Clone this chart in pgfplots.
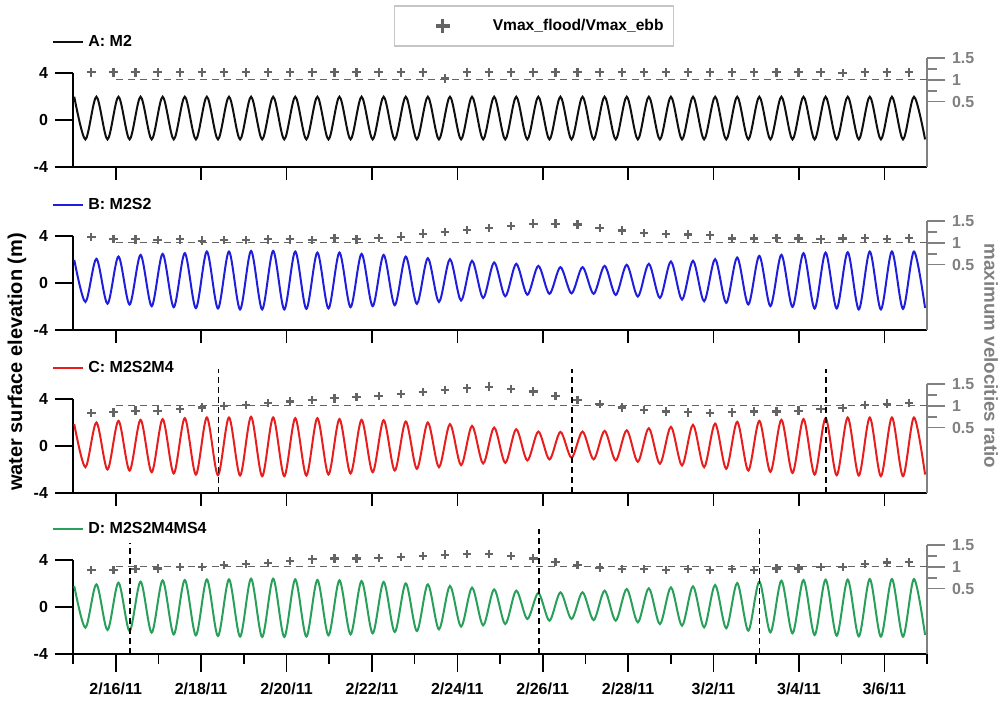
\documentclass[border=0pt]{standalone}
\usepackage{fontspec}
\setmainfont{Liberation Sans}
\usepackage{pgfplots}
\pgfplotsset{compat=1.18}
\usepackage{pgfplotstable}

\definecolor{cA}{RGB}{15,15,15}
\definecolor{cB}{RGB}{30,30,220}
\definecolor{cC}{RGB}{232,30,30}
\definecolor{cD}{RGB}{40,160,90}
\definecolor{mk}{RGB}{100,100,100}
\definecolor{rax}{RGB}{128,128,128}

\pgfplotstableread{
t a b c d
0.030 1.98 1.97 1.86 1.79
0.290 -1.65 -1.61 -1.80 -1.76
0.548 1.98 2.06 2.00 1.93
0.808 -1.65 -1.77 -2.00 -1.96
1.065 1.98 2.25 2.14 2.07
1.325 -1.65 -1.83 -2.09 -2.04
1.583 1.98 2.39 2.23 2.16
1.843 -1.65 -1.97 -2.23 -2.18
2.100 1.98 2.48 2.29 2.27
2.360 -1.65 -2.06 -2.34 -2.33
2.618 1.98 2.54 2.37 2.30
2.878 -1.65 -2.14 -2.43 -2.41
3.135 1.98 2.68 2.43 2.35
3.395 -1.65 -2.17 -2.49 -2.47
3.653 1.98 2.68 2.43 2.35
3.913 -1.65 -2.25 -2.51 -2.52
4.170 1.98 2.73 2.49 2.41
4.430 -1.65 -2.25 -2.57 -2.55
4.688 1.98 2.73 2.43 2.41
4.948 -1.65 -2.25 -2.57 -2.55
5.205 1.98 2.68 2.37 2.35
5.465 -1.65 -2.20 -2.51 -2.52
5.723 1.98 2.59 2.37 2.30
5.983 -1.65 -2.17 -2.43 -2.41
6.240 1.98 2.59 2.29 2.27
6.500 -1.65 -2.06 -2.34 -2.33
6.758 1.98 2.48 2.23 2.21
7.018 -1.65 -1.97 -2.23 -2.24
7.275 1.98 2.39 2.20 2.13
7.535 -1.65 -1.89 -2.09 -2.13
7.793 1.98 2.25 2.09 2.01
8.053 -1.65 -1.77 -1.94 -2.04
8.310 1.98 2.11 2.00 1.93
8.570 -1.65 -1.61 -1.80 -1.90
8.828 1.98 2.03 1.86 1.79
9.088 -1.65 -1.49 -1.63 -1.67
9.345 1.98 1.89 1.71 1.65
9.605 -1.65 -1.27 -1.49 -1.56
9.863 1.98 1.75 1.57 1.50
10.123 -1.65 -1.13 -1.43 -1.45
10.380 1.98 1.63 1.43 1.39
10.640 -1.65 -1.00 -1.23 -1.02
10.898 1.98 1.46 1.23 1.19
11.158 -1.65 -0.92 -1.14 -1.16
11.415 1.98 1.35 1.20 1.25
11.675 -1.65 -0.88 -1.00 -1.02
11.933 1.98 1.35 1.23 1.25
12.193 -1.65 -0.92 -1.14 -1.11
12.450 1.98 1.46 1.29 1.39
12.710 -1.65 -1.02 -1.23 -1.16
12.968 1.98 1.55 1.34 1.53
13.228 -1.65 -1.15 -1.34 -1.30
13.485 1.98 1.63 1.51 1.59
13.745 -1.65 -1.27 -1.51 -1.45
14.003 1.98 1.83 1.63 1.67
14.263 -1.65 -1.41 -1.66 -1.59
14.520 1.98 1.89 1.80 1.76
14.780 -1.65 -1.55 -1.80 -1.73
15.038 1.98 2.03 1.91 1.87
15.298 -1.65 -1.69 -1.94 -1.81
15.555 1.98 2.17 2.06 2.04
15.815 -1.65 -1.83 -2.09 -2.01
16.073 1.98 2.31 2.14 2.16
16.333 -1.65 -1.97 -2.20 -2.16
16.590 1.98 2.40 2.23 2.24
16.850 -1.65 -2.03 -2.29 -2.24
17.108 1.98 2.54 2.29 2.30
17.368 -1.65 -2.17 -2.43 -2.38
17.625 1.98 2.59 2.37 2.33
17.885 -1.65 -2.17 -2.49 -2.44
18.143 1.98 2.62 2.43 2.33
18.403 -1.65 -2.25 -2.51 -2.50
18.660 1.98 2.68 2.43 2.38
18.920 -1.65 -2.25 -2.57 -2.52
19.178 1.98 2.68 2.43 2.38
19.438 -1.65 -2.20 -2.57 -2.52
19.695 1.98 2.68 2.43 2.38
19.955 -1.65 -2.12 -2.43 -2.38
}\curves

\pgfplotstableread{
t a b c d
0.430 1.17 1.13 0.83 0.92
0.948 1.17 1.09 0.85 0.92
1.465 1.17 1.08 0.89 0.95
1.983 1.17 1.06 0.89 0.96
2.500 1.17 1.08 0.92 1.00
3.018 1.17 1.05 0.96 1.00
3.535 1.17 1.06 1.00 1.04
4.053 1.17 1.06 1.02 1.06
4.570 1.17 1.08 1.06 1.09
5.088 1.17 1.08 1.10 1.13
5.605 1.17 1.06 1.14 1.17
6.123 1.17 1.11 1.17 1.19
6.640 1.17 1.08 1.20 1.19
7.158 1.17 1.11 1.23 1.20
7.675 1.17 1.14 1.27 1.23
8.193 1.17 1.21 1.31 1.25
8.710 1.03 1.25 1.36 1.28
9.228 1.17 1.29 1.40 1.29
9.745 1.17 1.34 1.44 1.29
10.263 1.17 1.39 1.38 1.25
10.780 1.17 1.44 1.33 1.19
11.298 1.17 1.44 1.23 1.11
11.815 1.17 1.42 1.14 1.04
12.333 1.17 1.34 1.04 0.98
12.850 1.17 1.28 0.96 0.95
13.368 1.17 1.23 0.91 0.95
13.885 1.17 1.20 0.87 0.92
14.403 1.17 1.19 0.85 0.95
14.920 1.17 1.17 0.83 0.92
15.438 1.17 1.10 0.85 0.95
15.955 1.17 1.10 0.87 0.92
16.473 1.17 1.11 0.87 0.96
16.990 1.17 1.10 0.89 0.96
17.508 1.17 1.08 0.93 1.00
18.025 1.15 1.10 0.95 1.00
18.543 1.17 1.11 1.02 1.06
19.060 1.17 1.09 1.05 1.10
19.578 1.17 1.11 1.06 1.11
}\marks

\newcommand{\tf}{\bfseries\fontsize{8}{9.6}\selectfont}

\pgfplotsset{
  leftax/.style={
    scale only axis, width=427pt, height=47pt,
    xmin=0, xmax=20, ymin=-4, ymax=4,
    axis x line*=bottom, axis y line*=left,
    axis line style={line width=0.8pt, black, -},
    every tick/.style={black, line width=0.8pt},
    tick align=outside,
    ytick={-4,0,4}, yticklabels={-4,0,4},
    xtick={1,3,...,19},
    major tick length=9pt, minor tick length=5pt,
    yticklabel style={font=\tf},
    xticklabel style={font=\tf, yshift=-2pt},
    clip=false,
    legend style={at={(axis description cs:-0.0246,1.33)}, anchor=west,
      draw=none, fill=none, inner xsep=0pt, inner ysep=0pt, font=\tf,
      nodes={inner xsep=2pt, inner ysep=0pt}},
    legend image code/.code={\draw[##1, line width=1pt] (0pt,0pt) -- (15pt,0pt);},
  },
  shortx/.style={xtick style={/pgfplots/major tick length=6.5pt}},
  rightax/.style={
    scale only axis, width=427pt, height=54.5pt,
    xmin=0, xmax=20, ymin=-1, ymax=1.5,
    axis x line=none, axis y line*=right,
    axis line style={line width=0.8pt, rax, -},
    every tick/.style={rax, line width=0.8pt},
    tick align=outside,
    ytick={0.5,1,1.5}, yticklabels={0.5,1,1.5},
    minor ytick={0.75,1.25},
    major tick length=9pt, minor tick length=5pt,
    yticklabel style={font=\tf, text=rax},
    clip=false,
  },
  vline/.style={black, line width=0.85pt, dash pattern=on 3pt off 2pt, forget plot},
  oneline/.style={mk, line width=0.65pt, dash pattern=on 3.5pt off 2.5pt, forget plot},
  ratio/.style={only marks, mark=+, mark size=2.1pt, mk, line width=1.1pt},
}

\begin{document}
\begin{tikzpicture}
\useasboundingbox (0pt,0pt) rectangle (500.5pt,-351pt);

% ---------- Panel A
\begin{axis}[leftax, shortx, at={(36.5pt,-83.5pt)}, anchor=south west, xticklabels={}]
\addplot[cA, line width=1pt, smooth] table[x=t,y=a]{\curves};
\addlegendentry{A: M2}
\end{axis}
\begin{axis}[rightax, at={(36.5pt,-83.5pt)}, anchor=south west,
  legend style={at={(axis description cs:0.54,1.294)}, anchor=center,
    draw=gray!45, fill=white, font=\bfseries\fontsize{7.8}{9}\selectfont, line width=0.6pt},
  legend image code/.code={\path[draw=none, fill=none] (-21pt,-8pt) rectangle (23pt,8pt);
    \draw[#1, mark size=3.5pt, line width=1.6pt] plot[only marks] coordinates {(0pt,0pt)};}]
\addplot[oneline] coordinates {(1,1) (20,1)};
\addplot[ratio] table[x=t,y=a]{\marks};
\addlegendentry{Vmax\_flood/Vmax\_ebb}
\end{axis}

% ---------- Panel B
\begin{axis}[leftax, shortx, at={(36.5pt,-165pt)}, anchor=south west, xticklabels={}]
\addplot[cB, line width=1pt, smooth] table[x=t,y=b]{\curves};
\addlegendentry{B: M2S2}
\end{axis}
\begin{axis}[rightax, at={(36.5pt,-165pt)}, anchor=south west]
\addplot[oneline] coordinates {(1,1) (20,1)};
\addplot[ratio] table[x=t,y=b]{\marks};
\end{axis}

% ---------- Panel C
\begin{axis}[leftax, shortx, at={(36.5pt,-246.5pt)}, anchor=south west, xticklabels={}]
\addplot[cC, line width=1pt, smooth] table[x=t,y=c]{\curves};
\addlegendentry{C: M2S2M4}
\end{axis}
\begin{axis}[rightax, at={(36.5pt,-246.5pt)}, anchor=south west]
\addplot[oneline] coordinates {(1,1) (20,1)};
\addplot[ratio] table[x=t,y=c]{\marks};
\addplot[vline] coordinates {(3.41,-1) (3.41,1.85)};
\addplot[vline] coordinates {(11.68,-1) (11.68,1.85)};
\addplot[vline] coordinates {(17.64,-1) (17.64,1.85)};
\end{axis}

% ---------- Panel D
\begin{axis}[leftax, at={(36.5pt,-327pt)}, anchor=south west,
  minor xtick={0,2,...,20},
  xticklabels={2/16/11,2/18/11,2/20/11,2/22/11,2/24/11,2/26/11,2/28/11,3/2/11,3/4/11,3/6/11}]
\addplot[cD, line width=1pt, smooth] table[x=t,y=d]{\curves};
\addlegendentry{D: M2S2M4MS4}
\end{axis}
\begin{axis}[rightax, at={(36.5pt,-327pt)}, anchor=south west]
\addplot[oneline] coordinates {(1,1) (20,1)};
\addplot[ratio] table[x=t,y=d]{\marks};
\addplot[vline] coordinates {(1.34,-1) (1.34,1.55)};
\addplot[vline] coordinates {(10.91,-1) (10.91,1.87)};
\addplot[vline] coordinates {(16.08,-1) (16.08,1.87)};
\end{axis}

% ---------- axis titles
\node[rotate=90, font=\bfseries\fontsize{10}{12}\selectfont] at (8.5pt,-181pt) {water surface elevation (m)};
\node[rotate=-90, text=rax, font=\bfseries\fontsize{9.4}{11}\selectfont] at (495.5pt,-178pt) {maximum velocities ratio};
\end{tikzpicture}
\end{document}
